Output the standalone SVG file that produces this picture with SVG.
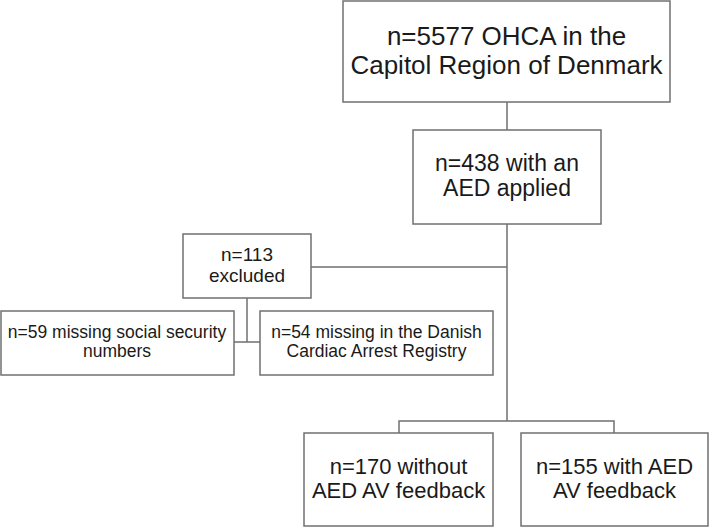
<svg xmlns="http://www.w3.org/2000/svg" width="709" height="527" viewBox="0 0 709 527">
<style>
.box{fill:#fff;stroke:#707070;stroke-width:1.5}
.ln{fill:none;stroke:#707070;stroke-width:1.5}
text{font-family:"Liberation Sans",Arial,sans-serif;fill:#1a1a1a;text-anchor:middle}
</style>
<rect width="709" height="527" fill="#fff"/>
<g id="connectors">
<path class="ln" d="M507 102V130M507 224V421M311 267H507M247 298V342M234 342H260M399 433V421H614V433"/>
</g>
<g id="n5577">
<rect class="box" x="343" y="1" width="327" height="101"/>
<text x="506.5" y="45" font-size="26">n=5577 OHCA in the</text>
<text x="506.5" y="74" font-size="26">Capitol Region of Denmark</text>
</g>
<g id="n438">
<rect class="box" x="413" y="130" width="188" height="94"/>
<text x="507" y="171" font-size="23">n=438 with an</text>
<text x="507" y="196" font-size="23">AED applied</text>
</g>
<g id="excluded">
<rect class="box" x="183" y="234" width="128" height="64"/>
<text x="247" y="261" font-size="19">n=113</text>
<text x="247" y="282" font-size="19">excluded</text>
</g>
<g id="n59">
<rect class="box" x="1" y="311" width="233" height="64"/>
<text x="117" y="338" font-size="17.5">n=59 missing social security</text>
<text x="117" y="357" font-size="17.5">numbers</text>
</g>
<g id="n54">
<rect class="box" x="260" y="311" width="233" height="64"/>
<text x="376.5" y="338" font-size="17.5">n=54 missing in the Danish</text>
<text x="376.5" y="357" font-size="17.5">Cardiac Arrest Registry</text>
</g>
<g id="n170">
<rect class="box" x="304" y="433" width="189" height="93"/>
<text x="398.5" y="474" font-size="22">n=170 without</text>
<text x="398.5" y="498" font-size="22">AED AV feedback</text>
</g>
<g id="n155">
<rect class="box" x="521" y="433" width="187" height="93"/>
<text x="614.5" y="474" font-size="22">n=155 with AED</text>
<text x="614.5" y="498" font-size="22">AV feedback</text>
</g>
</svg>
